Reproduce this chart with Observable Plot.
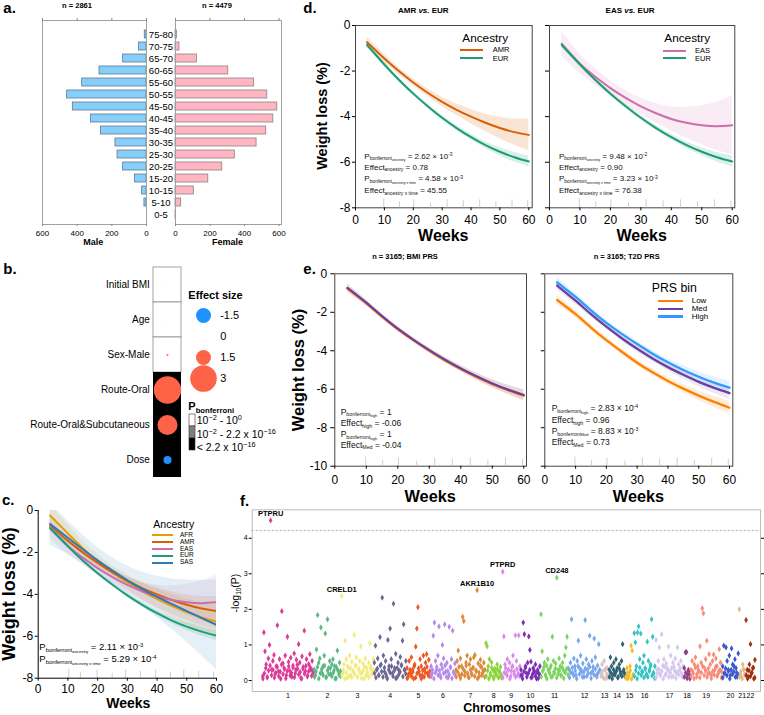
<!DOCTYPE html>
<html><head><meta charset="utf-8">
<script src="https://cdn.jsdelivr.net/npm/d3@7"></script>
<script src="https://cdn.jsdelivr.net/npm/@observablehq/plot@0.6"></script>
<style>
html,body{margin:0;padding:0;background:#fff;}
#root{position:relative;width:764px;height:715px;overflow:hidden;background:#fff;font-family:"Liberation Sans",Arial,Helvetica,sans-serif;color:#000;}
.t{position:absolute;white-space:nowrap;line-height:1;}
.t sub,.t sup{position:relative;line-height:0;vertical-align:baseline;font-size:.62em;}
.t sub{top:.3em;}
.t sup{top:-.55em;}
.t sub sub{font-size:.72em;top:.2em;}
.p{position:absolute;}
.p svg{overflow:visible;display:block;}
</style></head><body><div id="root"></div>
<script>
// ---------------- DATA ----------------
// a. age pyramid
const ageBands = ["75-80","70-75","65-70","60-65","55-60","50-55","45-50","40-45","35-40","30-35","25-30","20-25","15-20","10-15","5-10","0-5"];
const maleCounts = [10,43,135,271,371,458,425,320,262,179,167,135,66,25,12,0];
const femaleCounts = [8,23,124,306,455,532,590,567,526,470,344,271,190,106,33,1];
const pyrTicks = [0,200,400,600];

// b. covariate effects
const bFeatures = ["Initial BMI","Age","Sex-Male","Route-Oral","Route-Oral&Subcutaneous","Dose"];
const bEffect = [0.02,0.03,0.13,3.1,2.13,-0.71];
const pBins = ["1e-2 - 1","2.2e-16 - 1e-2","< 2.2e-16"];
const bPbinIdx = [0,0,0,2,2,2];
const sizeLegend = [-1.5,0,1.5,3];

// c/d. weight-loss trajectories by ancestry (fit and CI half width)
const weeks = [4,10,15,20,25,30,35,40,45,50,55,60];
const fitAFR = [-0.24,-1.10,-1.80,-2.42,-2.95,-3.42,-3.85,-4.22,-4.55,-4.85,-5.10,-5.30];
const ciAFR  = [0.55,0.42,0.35,0.32,0.32,0.35,0.40,0.47,0.55,0.63,0.70,0.78];
const fitAMR = [-0.73,-1.45,-2.00,-2.50,-2.95,-3.35,-3.70,-4.00,-4.27,-4.50,-4.68,-4.80];
const ciAMR  = [0.22,0.17,0.15,0.15,0.17,0.20,0.25,0.31,0.38,0.47,0.58,0.70];
const fitEAS = [-0.80,-1.68,-2.25,-2.75,-3.18,-3.55,-3.85,-4.10,-4.27,-4.38,-4.42,-4.38];
const ciEAS  = [0.55,0.42,0.36,0.33,0.33,0.36,0.43,0.53,0.68,0.86,1.06,1.30];
const fitEUR = [-0.85,-1.71,-2.38,-2.99,-3.54,-4.05,-4.50,-4.90,-5.25,-5.54,-5.78,-5.97];
const ciEUR  = [0.12,0.10,0.09,0.09,0.09,0.10,0.11,0.13,0.15,0.18,0.21,0.24];
const fitSAS = [-0.64,-1.30,-1.85,-2.38,-2.87,-3.33,-3.75,-4.12,-4.47,-4.80,-5.13,-5.46];
const ciSAS  = [1.00,0.80,0.68,0.62,0.62,0.68,0.80,0.98,1.20,1.48,1.80,2.15];

// e. PRS bins
const bmiLow = [-0.76,-1.53,-2.23,-2.88,-3.46,-4.00,-4.50,-4.95,-5.36,-5.73,-6.05,-6.33];
const bmiMed = [-0.73,-1.50,-2.20,-2.85,-3.43,-3.97,-4.47,-4.92,-5.33,-5.70,-6.02,-6.30];
const bmiCI  = [0.20,0.15,0.13,0.12,0.12,0.13,0.14,0.16,0.18,0.21,0.24,0.28];
const t2dLow = [-1.36,-2.10,-2.80,-3.45,-4.05,-4.62,-5.12,-5.57,-5.97,-6.33,-6.66,-6.96];
const t2dMed = [-0.61,-1.40,-2.10,-2.75,-3.35,-3.90,-4.40,-4.85,-5.25,-5.62,-5.93,-6.20];
const t2dHigh= [-0.44,-1.20,-1.90,-2.55,-3.12,-3.65,-4.15,-4.60,-5.00,-5.35,-5.66,-5.92];
const t2dCI  = [0.25,0.19,0.16,0.15,0.15,0.16,0.17,0.19,0.22,0.25,0.29,0.33];

// observation-time rug
const rugWeeks = [9.8,15.2,20.2,26,31.7,37.3,43,48.6,54.2,59.6];
const cRugWeeks = [10.3,14.2,19.8,24.9,29.4,34.4,39.5,44.5,49,54,59];
const rugLenPx = [9,6,8,5,8,7,8,6,8,7,6];

// f. gene-based Manhattan (-log10 P per gene, in genomic order)
const chrNames = ["1","2","3","4","5","6","7","8","9","10","11","12","13","14","15","16","17","18","19","20","21","22"];
const chrSpan = [51.6,27.4,32.6,32.7,24,25,30,16.7,18.3,20,28.3,31.7,8.3,16.7,8.3,21.7,28.3,6.7,31.7,16.7,6.7,10];
const chr1 = [.12,1.35,.82,.45,.08,.62,1.0,4.5,.3,.55,.72,.18,.4,1.55,.25,.6,.05,1.95,.48,.35,.7,.15,1.23,.52,.28,.64,.1,.42,.76,.2,.58,.33,1.02,.5,.07,.68,.38,1.4,.26,.6,.14,.46,.74,.3,.55,.22];
const chr2 = [.3,.15,.87,1.84,.5,.62,1.49,.22,.4,.7,1.32,.1,1.72,.35,.55,.18,.45,.6,.28,.05,.38,.84,.25,.5,.12];
const chr3 = [2.37,.2,.45,1.12,.6,.08,.35,.7,.15,.52,.28,1.28,.42,.65,.1,.3,.55,.96,.22,.48,.05,.62,.36,.18,.5,1.05,.4,.25,.6];
const chr4 = [.5,.98,.3,.62,.15,1.22,.45,2.33,.7,.25,.55,.1,1.14,.4,1.46,.6,.2,2.16,.35,.75,.08,.5,.28,.66,.42,1.12,1.58,.3,.55];
const chr5 = [.35,.1,.55,.2,.65,.3,.05,.45,.95,1.46,2.06,.25,.6,.4,.15,.7,.32,.5,.74,.2,.58,.12];
const chr6 = [.4,.2,1.26,1.63,.55,.3,.7,1.52,.15,.45,1.0,.62,1.58,.25,.5,.08,1.51,.38,.6,1.4,.22,.48];
const chr7 = [.3,.55,.84,.15,.62,.4,1.79,1.67,.25,.5,.7,.1,.45,.6,.2,.35,.65,.72,.28,2.54,.48,.12,.58,.38,.22,.5,.3];
const chr8 = [1.05,.96,.4,.6,.15,.51,.3,.05,.33,.2,.45,.1,.25,.38,.08];
const chr9 = [3.06,1.24,.45,.2,.6,.3,.5,.12,.38,.7,.25,1.27,.55,.15,1.27,.4];
const chr10 = [.3,.15,1.63,1.3,.4,.2,.5,1.24,.86,.53,.1,.35,.25,.45,.05,.3,.2,.4];
const chr11 = [1.86,.82,.3,.5,.15,.42,.6,.25,.35,.1,1.23,.55,.2,.48,2.89,.3,.62,.4,.15,.5,.28,.7,.93,1.23,.35];
const chr12 = [.3,.5,1.72,.2,.62,.4,.15,.55,1.12,.35,.7,.25,.48,.1,1.7,.6,.3,.45,1.26,.2,.55,.38,1.18,.65,.15,.42,1.02,.28];
const chr13 = [.2,.45,.1,.55,.3,.05,.35,.15];
const chr14 = [.3,.65,.4,.15,.5,.2,.6,.35,.1,.45,.25,.55,1.02,.3,.12];
const chr15 = [.1,.35,.05,.2,.4,.98,.84,.15];
const chr16 = [1.33,1.07,.4,1.35,1.52,.6,1.32,.25,.5,.7,.35,.15,1.09,.55,.3,.45,1.72,1.23,.2,.4];
const chr17 = [1.14,.3,.55,.93,.2,1.3,.42,.6,.15,.48,.35,.95,.25,.7,.1,.5,.38,.62,.2,.93,.45,.3,.55,.12,.4];
const chr18 = [.35,.79,.8,.15,.25,.05];
const chr19 = [.3,.55,.2,.45,.65,.1,.4,.25,.96,.5,2.03,1.89,.35,.6,1.12,.2,.74,.45,.15,.55,.73,.3,.62,.4,.18,.88,.5,.25];
const chr20 = [.4,.98,.2,.93,.55,.3,.7,.15,.9,.45,.25,.6,.35,.1,.76];
const chr21 = [2.0,.2,.1,.45,.3,.15];
const chr22 = [1.7,.3,.1,.45,1.02,.2,.35,.05,.58];
const chrVals = [chr1,chr2,chr3,chr4,chr5,chr6,chr7,chr8,chr9,chr10,chr11,chr12,chr13,chr14,chr15,chr16,chr17,chr18,chr19,chr20,chr21,chr22];
// the dense low band of genes (second set of genes per chromosome)
const chrBand = [
  [.05,.2,.35,.1,.28,.42,.15,.3,.08,.22,.38,.12,.25,.45,.18,.32,.06,.27,.4,.14,.21,.36,.09,.3,.44,.17,.24,.05,.33,.19,.41,.11,.26,.37,.13,.29],
  [.1,.25,.38,.05,.2,.32,.15,.42,.08,.28,.18,.35,.12,.22,.4,.06,.3,.16,.26],
  [.15,.3,.05,.22,.4,.12,.35,.08,.26,.18,.42,.1,.32,.2,.06,.28,.38,.14,.24,.09,.34,.17,.3],
  [.2,.08,.33,.15,.42,.25,.1,.36,.18,.05,.3,.22,.4,.12,.28,.06,.35,.16,.24,.44,.11,.3,.19],
  [.06,.18,.3,.12,.24,.4,.08,.2,.34,.15,.05,.28,.1,.22,.38,.14,.26],
  [.12,.3,.05,.22,.38,.15,.28,.08,.34,.2,.42,.1,.26,.16,.36,.06,.24,.18],
  [.1,.24,.38,.06,.18,.32,.14,.42,.2,.08,.3,.16,.36,.12,.26,.05,.22,.4,.15,.28,.1],
  [.12,.28,.05,.2,.36,.1,.24,.16,.32,.08,.22,.14],
  [.08,.22,.35,.14,.3,.05,.26,.4,.18,.1,.32,.2,.12],
  [.15,.05,.25,.36,.1,.2,.3,.08,.18,.28,.12,.22,.06,.16],
  [.1,.26,.38,.15,.05,.3,.2,.42,.12,.24,.34,.08,.18,.28,.14,.36,.06,.22,.32,.16],
  [.08,.22,.36,.14,.28,.05,.4,.18,.3,.1,.24,.34,.12,.2,.38,.06,.26,.16,.32,.1,.22,.3],
  [.12,.25,.06,.32,.18,.1],
  [.1,.22,.05,.3,.16,.26,.08,.34,.18,.12,.24,.2],
  [.06,.2,.12,.28,.04,.16],
  [.12,.28,.05,.2,.36,.15,.24,.08,.32,.18,.1,.26,.4,.14,.22,.06],
  [.08,.2,.32,.14,.26,.05,.38,.18,.3,.1,.22,.35,.12,.28,.06,.24,.16,.34,.2,.1],
  [.1,.22,.06,.3,.15],
  [.12,.26,.05,.36,.18,.3,.08,.22,.4,.15,.28,.1,.34,.2,.06,.26,.16,.38,.12,.24,.3,.08],
  [.08,.2,.34,.14,.26,.05,.3,.18,.4,.1,.22,.16],
  [.1,.25,.05,.32,.18],
  [.15,.05,.28,.12,.22,.36,.08]
];
const topGenes = [{gene:"PTPRU",chr:1,idx:7},{gene:"CRELD1",chr:3,idx:0},{gene:"AKR1B10",chr:7,idx:19},{gene:"PTPRD",chr:9,idx:0},{gene:"CD248",chr:11,idx:14}];
const sigLine = 4.22;

// ---------------- STYLE ----------------
const FONT = '"Liberation Sans", Arial, Helvetica, sans-serif';
const baseStyle = {fontFamily: FONT, background: "transparent", overflow: "visible", color: "#000"};
const ancColor = {AFR:"#E69F00", AMR:"#D95F02", EAS:"#CE6DAB", EUR:"#1B9E77", SAS:"#2C7BB6"};
const prsColor = {Low:"#FF8000", Med:"#6B3FA0", High:"#3399FF"};
const pBinFill = ["#ffffff","#7f7f7f","#000000"];
const chrColors = ["#DD3A97","#5DB882","#F2EC80","#6C6893","#EE5722","#B48AEC","#DD8A3C","#8CD43A","#D98BEA","#7B2FB5","#7DD45E","#78A6EE","#D8C2C2","#2F6273","#F2BE2E","#36C3C3","#D4C8EE","#8F3F84","#F78C78","#3B57C9","#E2BC8E","#A0300F"];
const rScale = {type:"pow", exponent:0.83, domain:[0,3], range:[0,13.3]};

// ---------------- HELPERS ----------------
const root = document.getElementById("root");
function place(node, left, top){
  const d = document.createElement("div"); d.className = "p";
  d.style.left = left + "px"; d.style.top = top + "px";
  d.style.width = node.getAttribute("width") + "px"; d.style.height = node.getAttribute("height") + "px";
  d.appendChild(node); root.appendChild(d); return d;
}
function T(html, x, base, size, o = {}){
  const d = document.createElement("div"); d.className = "t"; d.innerHTML = html;
  d.style.fontSize = size + "px"; d.style.left = x + "px"; d.style.top = (base - 0.8465*size) + "px";
  if (o.bold) d.style.fontWeight = "bold";
  if (o.color) d.style.color = o.color;
  if (o.anchor === "middle") d.style.transform = "translateX(-50%)";
  else if (o.anchor === "end") d.style.transform = "translateX(-100%)";
  (o.parent || root).appendChild(d); return d;
}
function TR(html, cx, cy, size, o = {}){
  const d = document.createElement("div"); d.className = "t"; d.innerHTML = html;
  d.style.fontSize = size + "px"; d.style.left = cx + "px"; d.style.top = cy + "px";
  d.style.transform = "translate(-50%,-50%) rotate(-90deg)";
  if (o.bold) d.style.fontWeight = "bold";
  root.appendChild(d); return d;
}
function L(x1, x2, y, color, w = 2){
  const d = document.createElement("div");
  d.style.cssText = `position:absolute;left:${x1}px;top:${y - w/2}px;width:${x2 - x1}px;height:${w}px;background:${color}`;
  root.appendChild(d);
}
function rows(fit, ci){ return weeks.map((w,i)=>({week:w, fit:fit[i], lo:fit[i]-ci[i], hi:fit[i]+ci[i]})); }

// ---------------- a. pyramid ----------------
const maleRows = ageBands.map((a,i)=>({age:a, n:maleCounts[i]}));
const femaleRows = ageBands.map((a,i)=>({age:a, n:femaleCounts[i]}));
const yBand = {domain: ageBands, range:[21.8,224.9], paddingInner:0.37, paddingOuter:0.2, axis:null, label:null};
place(Plot.plot({
  width:176, height:250, marginLeft:42, marginRight:30, marginTop:20, marginBottom:26, style: baseStyle,
  x:{domain:[0,600], reverse:true, axis:null, label:null}, y: yBand,
  marks:[
    Plot.barX(maleRows, {x:"n", y:"age", fill:"#87CEFA", stroke:"#5B7A92", strokeWidth:0.8}),
    Plot.frame({stroke:"#a0a0a0"}),
    Plot.axisX({anchor:"bottom", ticks:pyrTicks, tickSize:2, tickPadding:3.5, fontSize:8, stroke:"#888", tickFormat:d=>String(d), label:null}),
    Plot.axisX({anchor:"top", ticks:pyrTicks, tickSize:3, stroke:"#888", tickFormat:()=>"", label:null}),
    Plot.text(ageBands, {y:d=>d, text:d=>d, frameAnchor:"right", dx:14.5, textAnchor:"middle", fontSize:9.5})
  ]
}), 0, 0);
place(Plot.plot({
  width:116, height:250, marginLeft:5, marginRight:5, marginTop:20, marginBottom:26, style: baseStyle,
  x:{domain:[0,600], insetRight:2.5, axis:null, label:null}, y: yBand,
  marks:[
    Plot.barX(femaleRows, {x:"n", y:"age", fill:"#FFB6C1", stroke:"#8F7F82", strokeWidth:0.8}),
    Plot.frame({stroke:"#a0a0a0"}),
    Plot.axisX({anchor:"bottom", ticks:pyrTicks, tickSize:2, tickPadding:3.5, fontSize:8, stroke:"#888", tickFormat:d=>String(d), label:null}),
    Plot.axisX({anchor:"top", ticks:pyrTicks, tickSize:3, stroke:"#888", tickFormat:()=>"", label:null})
  ]
}), 170, 0);

// ---------------- b. effects ----------------
const bRows = bFeatures.map((f,i)=>({feature:f, effect:bEffect[i], bin:pBins[bPbinIdx[i]]}));
place(Plot.plot({
  width:185, height:235, marginLeft:152.7, marginRight:4, marginTop:10.7, marginBottom:12.3, style: baseStyle,
  x:{domain:["v"], padding:0, axis:null, label:null}, y:{domain:bFeatures, padding:0, axis:null, label:null},
  r: rScale,
  marks:[
    ...pBins.map((b,k)=>Plot.cell(bRows.filter(d=>d.bin===b), {x:()=>"v", y:"feature", fill:pBinFill[k], stroke: k===0 ? "#8c8c8c" : "none", strokeWidth:0.8})),
    Plot.dot(bRows.filter(d=>d.effect>=0), {x:()=>"v", y:"feature", r:d=>d.effect, fill:"#FF6347"}),
    Plot.dot(bRows.filter(d=>d.effect<0), {x:()=>"v", y:"feature", r:d=>-d.effect, fill:"#1E90FF"}),
    Plot.axisY({tickSize:0, tickPadding:3.4, fontSize:10, label:null})
  ]
}), 0, 255);
place(Plot.plot({
  width:75, height:95, marginLeft:0, marginRight:0, marginTop:0, marginBottom:0, style: baseStyle,
  x:{type:"point", domain:["k"], padding:0, range:[18.3,18.3], axis:null}, y:{type:"point", domain:sizeLegend.map(String), padding:0, range:[14.3,79], axis:null},
  r: rScale,
  marks:[
    Plot.dot(sizeLegend.filter(v=>v>0), {x:()=>"k", y:d=>String(d), r:d=>d, fill:"#FF6347"}),
    Plot.dot(sizeLegend.filter(v=>v<0), {x:()=>"k", y:d=>String(d), r:d=>-d, fill:"#1E90FF"}),
    Plot.text(sizeLegend, {x:()=>"k", y:d=>String(d), text:d=>String(d), dx:16.7, textAnchor:"start", fontSize:11})
  ]
}), 185, 300);
place(Plot.plot({
  width:12, height:42, marginLeft:2.3, marginRight:3, marginTop:4, marginBottom:2, style: baseStyle,
  x:{domain:["k"], padding:0, axis:null}, y:{domain:pBins, padding:0, axis:null},
  color:{type:"identity"},
  marks:[ Plot.cell(pBins, {x:()=>"k", y:d=>d, fill:(d,i)=>pBinFill[i], stroke:"#333", strokeWidth:0.6}) ]
}), 186, 410);

// ---------------- curve panels ----------------
function curvePanel(o){
  const marks = [];
  if (o.frame) marks.push(Plot.frame({stroke:"#444"}));
  for (const s of o.series) marks.push(Plot.areaY(s.rows, {x:"week", y1:"lo", y2:"hi", fill:s.color, fillOpacity:s.op ?? 0.15, curve:"natural", clip:true}));
  marks.push(Plot.ruleX(o.rug, {x:d=>d, y1:o.yDomain[0], y2:(d,i)=>o.yDomain[0] + rugLenPx[i]/o.pxPerUnit, stroke:"#cfcfcf"}));
  for (const s of o.series) marks.push(Plot.line(s.rows, {x:"week", y:"fit", stroke:s.color, strokeWidth:s.sw ?? 2, curve:"natural", clip:true}));
  if (!o.frame) { marks.push(Plot.ruleX([0])); marks.push(Plot.ruleY([o.yDomain[0]])); }
  marks.push(Plot.axisX({ticks:[0,10,20,30,40,50,60], tickSize:3, tickPadding:o.xPad, fontSize:o.fs, label:null}));
  marks.push(Plot.axisY({ticks:o.yTicks, tickSize:o.yTickSize, tickPadding:o.yPad, fontSize:o.fs, label:null, tickFormat: o.yLabels ? (d=>String(d)) : (()=>"")}));
  return Plot.plot({
    width:o.width, height:o.height, marginLeft:o.mL, marginRight:o.mR, marginTop:o.mT, marginBottom:o.mB, style: baseStyle,
    x:{domain:[0,60], insetRight:o.insR || 0, axis:null, label:null}, y:{domain:o.yDomain, axis:null, label:null},
    marks
  });
}
const S = (fit, ci, color, extra={}) => ({rows: rows(fit, ci), color, ...extra});

// c
place(curvePanel({width:225, height:220, mL:37.7, mR:9, mT:15, mB:37.3, frame:false, yDomain:[-8,0], yTicks:[-8,-6,-4,-2,0], yLabels:true,
  yTickSize:3, yPad:2, xPad:3.4, fs:12, pxPerUnit:21, rug:cRugWeeks,
  series:[S(fitAFR,ciAFR,ancColor.AFR,{op:0.12}), S(fitAMR,ciAMR,ancColor.AMR,{op:0.12}), S(fitEAS,ciEAS,ancColor.EAS,{op:0.12}), S(fitEUR,ciEUR,ancColor.EUR,{op:0.14}), S(fitSAS,ciSAS,ancColor.SAS,{op:0.12})]}), 0, 495);
// d left
place(curvePanel({width:240, height:245, mL:55, mR:8.3, mT:25, mB:37.7, insR:3.4, frame:true, yDomain:[-8,0], yTicks:[-8,-6,-4,-2,0], yLabels:true,
  yTickSize:3, yPad:2, xPad:4.4, fs:12, pxPerUnit:22.8, rug:rugWeeks,
  series:[S(fitAMR,ciAMR,ancColor.AMR,{op:0.16}), S(fitEUR,ciEUR,ancColor.EUR,{op:0.16})]}), 300, 0);
// d right
place(curvePanel({width:224, height:245, mL:9, mR:29.7, mT:25, mB:37.7, insR:2.6, frame:true, yDomain:[-8,0], yTicks:[-8,-6,-4,-2,0], yLabels:false,
  yTickSize:4, yPad:2, xPad:4.4, fs:12, pxPerUnit:22.8, rug:rugWeeks,
  series:[S(fitEAS,ciEAS,ancColor.EAS,{op:0.13}), S(fitEUR,ciEUR,ancColor.EUR,{op:0.16})]}), 540, 0);
// e left
place(curvePanel({width:250, height:255, mL:54.3, mR:4, mT:23.3, mB:39.3, insR:2.7, frame:true, yDomain:[-10,0], yTicks:[-10,-8,-6,-4,-2,0], yLabels:true,
  yTickSize:4, yPad:3.6, xPad:6, fs:12, pxPerUnit:19.2, rug:rugWeeks,
  series:[S(bmiLow,bmiCI,prsColor.Low,{op:0.12, sw:2.4}), S(bmiMed,bmiCI,prsColor.Med,{op:0.14, sw:2.2})]}), 280, 250);
// e right
place(curvePanel({width:234, height:255, mL:14.3, mR:31.7, mT:23.3, mB:39.3, insR:3.3, frame:true, yDomain:[-10,0], yTicks:[-10,-8,-6,-4,-2,0], yLabels:false,
  yTickSize:3.5, yPad:3, xPad:6, fs:12, pxPerUnit:19.2, rug:rugWeeks,
  series:[S(t2dLow,t2dCI,prsColor.Low,{op:0.14, sw:2.3}), S(t2dMed,t2dCI,prsColor.Med,{op:0.12, sw:2.3}), S(t2dHigh,t2dCI,prsColor.High,{op:0.13, sw:2.3})]}), 530, 250);

// ---------------- f. Manhattan ----------------
const fPts = []; const chrLabels = []; const chrStart = [];
let acc = 0;
chrVals.forEach((vals,i)=>{
  const w = chrSpan[i]; chrStart.push(acc);
  chrBand[i].forEach((v,j)=>fPts.push({chr:i, pos: acc + (j+0.5)/chrBand[i].length*w, p:v, color: chrColors[i]}));
  vals.forEach((v,j)=>fPts.push({chr:i, pos: acc + (j+0.5)/vals.length*w, p:v, color: chrColors[i]}));
  chrLabels.push({name: chrNames[i], mid: acc + w/2});
  acc += w;
});
const geneLabels = topGenes.map(g=>{
  const vals = chrVals[g.chr-1];
  return {gene:g.gene, pos: chrStart[g.chr-1] + (g.idx+0.5)/vals.length*chrSpan[g.chr-1], p: vals[g.idx]};
});
place(Plot.plot({
  width:539, height:220, marginLeft:26.7, marginRight:4, marginTop:14.3, marginBottom:24, style: baseStyle,
  x:{domain:[-10, acc+5], axis:null, label:null}, y:{domain:[-0.31,4.8], axis:null, label:null},
  color:{type:"identity"},
  marks:[
    Plot.frame({stroke:"#bdbdbd"}),
    Plot.ruleY([sigLine], {stroke:"#9a9a9a", strokeDasharray:"2,2", strokeWidth:0.8}),
    Plot.dot(fPts, {x:"pos", y:"p", fill:"color", symbol:"diamond", r:1.9}),
    Plot.text(geneLabels, {x:"pos", y:"p", text:"gene", dy:-7, fontWeight:"bold", fontSize:7.5}),
    Plot.text(chrLabels, {x:"mid", text:"name", frameAnchor:"bottom", dy:6.7, fontSize:7}),
    Plot.axisY({anchor:"left", ticks:[0,1,2,3,4], tickSize:3, tickPadding:1.5, fontSize:7, tickFormat:d=>String(d), label:null}),
    Plot.axisY({anchor:"right", ticks:[0,1,2,3,4], tickSize:3, tickFormat:()=>"", label:null})
  ]
}), 225, 495);

// ---------------- TEXT ----------------
T("a.", 3.3, 12.5, 15, {bold:true});
T("b.", 3.3, 273.6, 15, {bold:true});
T("c.", 2, 504.9, 15, {bold:true});
T("d.", 303.3, 12.5, 15, {bold:true});
T("e.", 303.3, 273.4, 15, {bold:true});
T("f.", 240, 505.9, 15, {bold:true});

// a
T("n = 2861", 77, 8.5, 7.5, {bold:true, anchor:"middle"});
T("n = 4479", 217, 8.5, 7.5, {bold:true, anchor:"middle"});
T("Male", 93.3, 245.5, 9, {bold:true, anchor:"middle"});
T("Female", 227.5, 245.5, 9, {bold:true, anchor:"middle"});

// b legends
T("Effect size", 188.3, 299.6, 11, {bold:true});
T('P<sub style="font-size:.7em;top:.3em">bonferroni</sub>', 188.3, 410.6, 11, {bold:true});
T('10<sup style="font-size:.7em">−2</sup> - 10<sup style="font-size:.7em">0</sup>', 196.7, 424.3, 10.5);
T('10<sup style="font-size:.7em">−2</sup> - 2.2 x 10<sup style="font-size:.7em">−16</sup>', 196.7, 438.3, 10.5);
T('&lt; 2.2 x 10<sup style="font-size:.7em">−16</sup>', 196.7, 450.8, 10.5);

// c
TR("Weight loss (%)", 8.8, 594, 18, {bold:true});
T("Weeks", 128.3, 708, 14, {bold:true, anchor:"middle"});
T("Ancestry", 153.3, 527.8, 10.5);
const cLegY = [535,542.3,549,555.7,562.7];
["AFR","AMR","EAS","EUR","SAS"].forEach((k,i)=>{ L(151.7,173.3,cLegY[i],ancColor[k],2); T(k,180,cLegY[i]+2.3,6.5); });
T("P<sub>bonferroni<sub>ancestry</sub></sub> = 2.11 × 10<sup>-3</sup>", 39.3, 650.1, 9.5);
T("P<sub>bonferroni<sub>ancestry x time</sub></sub> = 5.29 × 10<sup>-4</sup>", 39.3, 662.4, 9.5);

// d
T("AMR <i>vs.</i> EUR", 423.3, 13.6, 8, {bold:true, anchor:"middle"});
T("EAS <i>vs.</i> EUR", 630, 13.6, 8, {bold:true, anchor:"middle"});
TR("Weight loss (%)", 321.7, 116, 14.5, {bold:true});
T("Weeks", 443.3, 241.5, 16, {bold:true, anchor:"middle"});
T("Weeks", 641.7, 241.5, 16, {bold:true, anchor:"middle"});
T("Ancestry", 462.3, 42.5, 11.8);
T("Ancestry", 664.3, 42.5, 11.8);
L(460,483.3,50,ancColor.AMR,2); T("AMR",492.7,52.7,7.5);
L(460,483.3,58.3,ancColor.EUR,2); T("EUR",492.7,61,7.5);
L(663.3,685.7,50.7,ancColor.EAS,2); T("EAS",695,53.4,7.5);
L(663.3,685.7,58.3,ancColor.EUR,2); T("EUR",695,61,7.5);
const annBase = [159.6,170.6,182.2,193.9];
const dLeftAnn = ["P<sub>bonferroni<sub>ancestry</sub></sub> = 2.62 × 10<sup>-3</sup>","Effect<sub>ancestry</sub> = 0.78","P<sub>bonferroni<sub>ancestry x time</sub></sub> = 4.58 × 10<sup>-3</sup>","Effect<sub>ancestry x time</sub> = 45.55"];
const dRightAnn = ["P<sub>bonferroni<sub>ancestry</sub></sub> = 9.48 × 10<sup>-2</sup>","Effect<sub>ancestry</sub> = 0.90","P<sub>bonferroni<sub>ancestry x time</sub></sub> = 3.23 × 10<sup>-3</sup>","Effect<sub>ancestry x time</sub> = 76.38"];
dLeftAnn.forEach((h,i)=>T(h,364.3,annBase[i],8,{color:"#111"}));
dRightAnn.forEach((h,i)=>T(h,559,annBase[i],8,{color:"#111"}));

// e
T("n = 3165; BMI PRS", 405, 259.4, 7.5, {bold:true, anchor:"middle"});
T("n = 3165; T2D PRS", 626.7, 259.4, 7.5, {bold:true, anchor:"middle"});
TR("Weight loss (%)", 298.3, 370, 16.5, {bold:true});
T("Weeks", 430.2, 501.3, 16.3, {bold:true, anchor:"middle"});
T("Weeks", 638.5, 501.3, 16.3, {bold:true, anchor:"middle"});
T("PRS bin", 651.7, 292.7, 12.3);
const eLegY = [301,309,316.7];
["Low","Med","High"].forEach((k,i)=>{ L(658.3,683.3,eLegY[i],prsColor[k],2.5); T(k,691.7,eLegY[i]+2.9,8); });
const eLeftAnn = ["P<sub>bonferroni<sub>high</sub></sub> = 1","Effect<sub>high</sub> = -0.06","P<sub>bonferroni<sub>high</sub></sub> = 1","Effect<sub>Med</sub> = -0.04"];
const eRightAnn = ["P<sub>bonferroni<sub>high</sub></sub> = 2.83 × 10<sup>-4</sup>","Effect<sub>high</sub> = 0.96","P<sub>bonferroni<sub>Med</sub></sub> = 8.83 × 10<sup>-3</sup>","Effect<sub>Med</sub> = 0.73"];
const eLB = [414.9,426.5,437.4,447.9], eRB = [411.5,423.2,434.2,445.5];
eLeftAnn.forEach((h,i)=>T(h,340.7,eLB[i],8.5,{color:"#111"}));
eRightAnn.forEach((h,i)=>T(h,551.7,eRB[i],8.5,{color:"#111"}));

// f
TR("-log<sub>10</sub>(P)", 235, 592.5, 10.5);
T("Chromosomes", 507, 712.8, 12.5, {bold:true, anchor:"middle"});
</script></body></html>
